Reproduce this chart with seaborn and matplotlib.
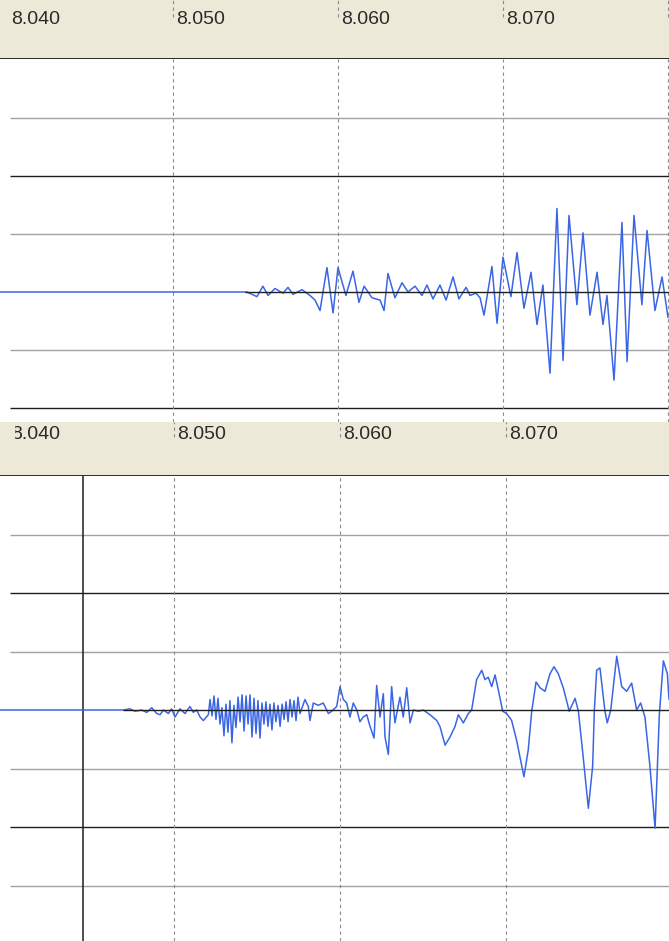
import numpy as np
import pandas as pd
import matplotlib.pyplot as plt
import seaborn as sns
from matplotlib.patches import Rectangle

# ---------- data ----------
# time in ms after 8.040 s, amplitude in track units (1.0 = black gridline)
top_ms = [-0.49, 14.48, 15.09, 15.45, 15.76, 16.18, 16.67, 16.97, 17.27, 17.82,
          18.30, 18.61, 18.91, 19.33, 19.70, 20.00, 20.48, 20.91, 21.27, 21.58,
          22.06, 22.55, 22.79, 23.03, 23.45, 23.88, 24.24, 24.67, 25.09, 25.39,
          25.76, 26.18, 26.55, 26.97, 27.33, 27.76, 28.00, 28.36, 28.61, 28.85,
          29.33, 29.64, 30.00, 30.48, 30.85, 31.27, 31.70, 32.06, 32.42, 32.85,
          33.27, 33.64, 34.00, 34.48, 34.85, 35.27, 35.70, 36.06, 36.30, 36.73,
          37.21, 37.52, 37.94, 38.42, 38.73, 39.21, 39.64, 40.00]
top_amp = [0.0, 0.0, -0.04, 0.05, -0.03, 0.03, -0.01, 0.04, -0.02, 0.02,
           -0.03, -0.07, -0.16, 0.21, -0.18, 0.21, -0.03, 0.18, -0.09, 0.05,
           -0.05, -0.07, -0.16, 0.16, -0.05, 0.08, 0.0, 0.05, -0.03, 0.06,
           -0.06, 0.06, -0.07, 0.13, -0.06, 0.04, -0.03, -0.01, -0.05, -0.20,
           0.22, -0.27, 0.30, -0.04, 0.34, -0.14, 0.17, -0.28, 0.06, -0.70,
           0.72, -0.59, 0.66, -0.11, 0.51, -0.20, 0.17, -0.28, -0.03, -0.76,
           0.60, -0.60, 0.66, -0.11, 0.53, -0.16, 0.13, -0.22]

bottom_ms = [-0.48, 6.93, 7.35, 7.65, 8.05, 8.36, 8.66, 8.96, 9.16, 9.36,
             9.66, 9.86, 10.06, 10.36, 10.66, 10.96, 11.16, 11.37, 11.57, 11.77,
             12.07, 12.17, 12.29, 12.41, 12.53, 12.65, 12.77, 12.89, 13.01, 13.13,
             13.25, 13.37, 13.49, 13.61, 13.73, 13.86, 13.98, 14.10, 14.22, 14.34,
             14.46, 14.58, 14.70, 14.82, 14.94, 15.06, 15.18, 15.30, 15.42, 15.54,
             15.66, 15.78, 15.90, 16.02, 16.14, 16.27, 16.39, 16.51, 16.63, 16.75,
             16.87, 16.99, 17.11, 17.23, 17.35, 17.47, 17.59, 17.69, 17.89, 18.09,
             18.19, 18.39, 18.69, 18.99, 19.30, 19.50, 19.80, 20.00,
             20.20, 20.40, 20.60, 20.80, 21.04, 21.20, 21.40, 21.61, 21.81, 22.05,
             22.21, 22.41, 22.61, 22.71, 22.91, 23.11, 23.31, 23.61, 23.81, 24.02,
             24.22, 24.42, 24.72, 25.02, 25.42, 25.83, 26.02, 26.33, 26.63, 26.93,
             27.13, 27.43, 27.73, 27.93, 28.13, 28.23, 28.54, 28.73, 28.93, 29.14,
             29.34, 29.54, 29.80, 30.04, 30.34, 30.64, 31.08, 31.34, 31.55, 31.81,
             32.05, 32.35, 32.65, 32.89, 33.15, 33.45, 33.81, 34.16, 34.36, 34.62,
             34.96, 35.22, 35.32, 35.46, 35.66, 35.96, 36.10, 36.31, 36.67, 36.97,
             37.27, 37.57, 37.87, 38.11, 38.37, 38.67, 38.98, 39.24, 39.48, 39.72,
             39.82]
bottom_amp = [0.0, 0.0, 0.01, -0.01, 0.0, -0.02, 0.02, -0.03, -0.04, 0.0,
              -0.03, 0.01, -0.06, 0.01, -0.03, 0.03, -0.02, 0.0, -0.06, -0.09,
              -0.04, 0.09, -0.05, 0.12, -0.08, 0.10, -0.12, 0.02, -0.22, 0.05,
              -0.19, 0.08, -0.28, 0.04, -0.15, 0.11, -0.10, 0.13, -0.18, 0.12,
              -0.12, 0.13, -0.23, 0.10, -0.20, 0.08, -0.24, 0.06, -0.12, 0.07,
              -0.14, 0.05, -0.17, 0.06, -0.10, 0.04, -0.14, 0.05, -0.08, 0.07,
              -0.10, 0.09, -0.06, 0.08, -0.09, 0.11, -0.03, 0.01, 0.09, 0.03,
              -0.09, 0.06, 0.04, 0.06, -0.03, -0.01, 0.03, 0.20,
              0.09, 0.06, -0.06, 0.06, -0.01, -0.10, -0.06, -0.04, -0.14, -0.24,
              0.21, -0.06, 0.14, -0.23, -0.38, 0.20, -0.11, 0.11, -0.06, 0.19,
              -0.11, 0.0, -0.01, 0.0, -0.04, -0.09, -0.14, -0.30, -0.23, -0.14,
              -0.04, -0.11, -0.03, 0.0, 0.17, 0.26, 0.34, 0.26, 0.28, 0.20,
              0.30, 0.17, -0.01, -0.03, -0.09, -0.26, -0.57, -0.34, -0.01, 0.24,
              0.19, 0.16, 0.31, 0.37, 0.31, 0.19, -0.01, 0.10, -0.01, -0.36,
              -0.84, -0.48, -0.01, 0.34, 0.36, -0.01, -0.11, 0.0, 0.46, 0.20,
              0.16, 0.23, 0.0, 0.06, -0.06, -0.48, -1.01, -0.03, 0.42, 0.31,
              0.09]

label_s = [8.040, 8.050, 8.060, 8.070]
tick_labels = ["8.040", "8.050", "8.060", "8.070"]
grid_s = [8.050, 8.060, 8.070, 8.080]
top_onset_ms = 14.36
bottom_onset_ms = 6.93
cursor_ms = 4.52
gray_levels_top = [1.5, 0.5, -0.5]
gray_levels_bottom = [1.5, 0.5, -0.5, -1.5]
black_levels = [1.0, -1.0]

# ---------- style ----------
sns.set_style("white")
plt.rcParams['font.family'] = ['Liberation Sans', 'DejaVu Sans']

BEIGE = "#ECE9D8"
GRID_GRAY = "#A3A3A3"
DARK = "#1E1E1E"
WAVE_BLUE = "#3A66E6"
DASH = "#8A8A8A"

H = 941.0
fig = plt.figure(figsize=(6.69, 9.41), dpi=100)


def frac(top_px, bot_px):
    return [0, 1 - bot_px / H, 1, (bot_px - top_px) / H]


panels = [
    dict(head=(0, 59), body=(59, 422), ylim=(-1.121, 2.009),
         xlim=(8.039515, 8.080061), ms=top_ms, amp=top_amp,
         onset=top_onset_ms, grays=gray_levels_top, label_dy=-8.0,
         cursor=None, clipped=False),
    dict(head=(422, 476), body=(476, 941), ylim=(-1.974, 2.0),
         xlim=(8.039518, 8.079819), ms=bottom_ms, amp=bottom_amp,
         onset=bottom_onset_ms, grays=gray_levels_bottom, label_dy=-3.0,
         cursor=cursor_ms, clipped=True),
]

for p in panels:
    t0, t1 = p["xlim"]
    line_start = 8.040 + 0.12 / 1000

    # ruler / header band
    head = fig.add_axes(frac(*p["head"]))
    head.set_facecolor(BEIGE)
    head.set_xlim(t0, t1)
    head.set_ylim(0, 1)
    head.set_xticks([])
    head.set_yticks([])
    for side in ["top", "left", "right"]:
        head.spines[side].set_visible(False)
    head.spines["bottom"].set_color("#2A2A2A")
    head.spines["bottom"].set_linewidth(1.4)
    head.vlines(grid_s, 0.72, 1.0, color=DASH, lw=0.8, linestyles=(0, (3, 3)))
    for t, lab in zip(label_s, tick_labels):
        head.annotate(lab, xy=(t, 1), xycoords=("data", "axes fraction"),
                      xytext=(2.0, p["label_dy"]), textcoords="offset points",
                      va="top", ha="left", fontsize=14, color="#2A2A2A")
    if p["clipped"]:
        # the first ruler label is partly painted over in the screenshot
        head.add_patch(Rectangle((0, 0.2), 14.0 / 669, 0.8, transform=head.transAxes,
                                 color=BEIGE, zorder=5))

    # track area
    ax = fig.add_axes(frac(*p["body"]))
    ax.set_facecolor("white")
    ax.set_xlim(t0, t1)
    ax.set_ylim(*p["ylim"])
    ax.set_xticks([])
    ax.set_yticks([])
    for side in ax.spines:
        ax.spines[side].set_visible(False)

    ax.hlines(p["grays"], line_start, t1, color=GRID_GRAY, lw=1.0, zorder=1)
    ax.hlines(black_levels, line_start, t1, color=DARK, lw=1.0, zorder=1)
    for t in grid_s:
        ax.axvline(t, color=DASH, lw=0.8, ls=(0, (3, 3)), zorder=1)
    if p["cursor"] is not None:
        ax.axvline(8.040 + p["cursor"] / 1000, color=DARK, lw=1.1, zorder=1)

    wave = pd.DataFrame({"t": 8.040 + np.array(p["ms"]) / 1000,
                         "amp": p["amp"]})
    sns.lineplot(data=wave, x="t", y="amp", ax=ax, sort=False, estimator=None,
                 color=WAVE_BLUE, lw=1.1, zorder=2)
    ax.hlines(0, 8.040 + p["onset"] / 1000, t1, color=DARK, lw=1.0, zorder=3)
    ax.set_xlabel("")
    ax.set_ylabel("")

fig.savefig("out.png", dpi=100)
